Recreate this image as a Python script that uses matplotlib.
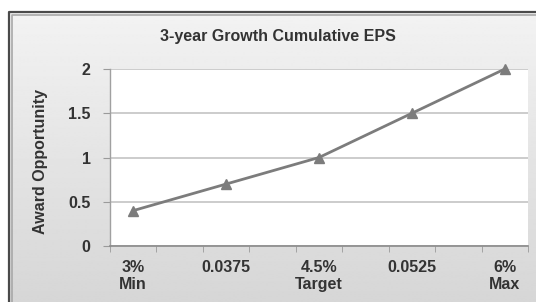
import numpy as np
import matplotlib.pyplot as plt

# data
cat_labels = [ "3%\nMin", "", "0.0375", "", "4.5%\nTarget", "", "0.0525", "", "6%\nMax" ]
pt_idx = [ 0, 2, 4, 6, 8 ]
award = [ 0.4, 0.7, 1.0, 1.5, 2.0 ]
yticks = [ 0, 0.5, 1, 1.5, 2 ]
ytick_labels = [ "0", "0.5", "1", "1.5", "2" ]

W, H = 536, 302
plt.rcParams['font.family'] = [ 'Liberation Sans', 'DejaVu Sans' ]

fs = 11.5
tc = '#333333'

fig = plt.figure( figsize=( W/100., H/100. ), dpi=100 )

# background panel with gradient and dark frame
bg = fig.add_axes( [ 0, 0, 1, 1 ], zorder=-5 )
grad = np.linspace( 0.95, 0.84, 256 ).reshape( -1, 1 )
bg.imshow( grad, extent=[ 9, W, H, 12 ], cmap='gray', vmin=0, vmax=1,
           aspect='auto', interpolation='bilinear' )
bg.plot( [ 9, 9, W ], [ H, 12, 12 ], color='#4a4a4a', lw=1.6, solid_capstyle='butt' )
bg.plot( [ 11.5, 11.5, W ], [ H, 14.5, 14.5 ], color='#a8a8a8', lw=1.2 )
bg.set_xlim( 0, W )
bg.set_ylim( H, 0 )
bg.axis( 'off' )

l, r, t, b = 110, 528, 69, 246
ax = fig.add_axes( [ l/W, 1 - b/H, ( r - l )/W, ( b - t )/H ] )
ax.set_facecolor( 'white' )

ax.plot( pt_idx, award, color='#7c7c7c', lw=2.0, marker='^', ms=7.5,
         markerfacecolor='#7c7c7c', markeredgecolor='#7c7c7c', clip_on=False,
         zorder=3 )

ax.set_xlim( -0.5, len( cat_labels ) - 0.5 )
ax.set_ylim( 0, 2 )

ax.set_yticks( yticks )
ax.set_yticklabels( ytick_labels, fontsize=fs, fontweight='bold', color=tc )
ax.yaxis.grid( True, color='#c8c8c8', lw=1.3 )
ax.set_axisbelow( True )

ax.set_xticks( pt_idx )
ax.set_xticklabels( [ cat_labels[i] for i in pt_idx ], fontsize=fs,
                    fontweight='bold', color=tc, linespacing=1.2 )
ax.set_xticks( np.arange( -0.5, len( cat_labels ), 1.0 ), minor=True )
ax.tick_params( axis='x', which='major', length=0, pad=10 )
ax.tick_params( axis='x', which='minor', length=4, color='#9a9a9a', direction='out' )
ax.tick_params( axis='y', length=5, color='#9a9a9a', pad=9 )

for s in [ 'top', 'right' ]:
    ax.spines[s].set_visible( False )
ax.spines['left'].set_color( '#a0a0a0' )
ax.spines['bottom'].set_color( '#8a8a8a' )
ax.spines['left'].set_linewidth( 1.0 )
ax.spines['bottom'].set_linewidth( 1.2 )

ax.text( 41/W, 1 - 162/H, 'Award Opportunity', fontsize=fs, fontweight='bold',
         color=tc, rotation=90, ha='center', va='center',
         transform=fig.transFigure )

fig.text( 278/W, 1 - 37/H, '3-year Growth Cumulative EPS', fontsize=fs,
          fontweight='bold', color=tc, ha='center', va='center' )

fig.savefig( 'out.png', dpi=100 )
